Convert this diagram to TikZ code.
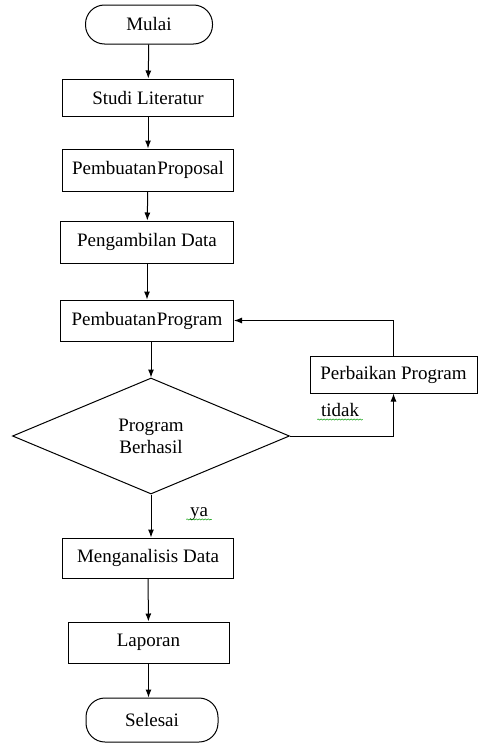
\documentclass[tikz,border=0pt]{standalone}
\usepackage{fontspec}
\newfontfamily\teksfont{Liberation Serif}
\usetikzlibrary{arrows.meta,shapes.geometric,decorations.pathmorphing}

\begin{document}
\begin{tikzpicture}[x=1pt,y=-1pt,line width=1pt,
  every node/.style={font=\teksfont\fontsize{19}{22}\selectfont},
  proses/.style={draw,rectangle,inner sep=0pt},
  terminal/.style={draw,rectangle,rounded corners=19pt,inner sep=0pt},
  keputusan/.style={draw,diamond,inner sep=0pt,align=center},
  alur/.style={-{Latex[length=8pt,width=6pt]}},
  ejaan/.style={green!60!black,line width=0.5pt,decorate,decoration={snake,amplitude=0.6pt,segment length=3pt}}]
  \useasboundingbox (0,0) rectangle (479,744);
  %draw the main column
  \node [terminal,minimum width=127pt,minimum height=39pt] (mulai) at (149,24.5) {Mulai};
  \node [proses,minimum width=171pt,minimum height=37pt] (studi) at (148,97.5) {Studi Literatur};
  \node [proses,minimum width=171pt,minimum height=42pt] (proposal) at (148,170) {Pembuatan\kern1pt Proposal};
  \node [proses,minimum width=173pt,minimum height=42pt] (ambil) at (147,242) {Pengambilan Data};
  \node [proses,minimum width=173pt,minimum height=41pt] (program) at (147,320.5) {Pembuatan\kern1pt Program};
  \node [keputusan,minimum width=277pt,minimum height=116pt] (cek) at (151,436) {Program\\Berhasil};
  \node [proses,minimum width=171pt,minimum height=40pt] (analisis) at (148,558) {Menganalisis Data};
  \node [proses,minimum width=161pt,minimum height=41pt] (laporan) at (148.5,642.5) {Laporan};
  \node [terminal,minimum width=132pt,minimum height=44pt] (selesai) at (152,720) {Selesai};
  %draw the repair box
  \node [proses,minimum width=167pt,minimum height=37pt] (perbaikan) at (393.5,374.5) {Perbaikan Program};
  %draw the arrows
  \draw [alur] (mulai) -- (studi);
  \draw [alur] (studi) -- (proposal);
  \draw [alur] (proposal) -- (ambil);
  \draw [alur] (ambil) -- (program);
  \draw [alur] (program.south -| cek.north) -- (cek.north);
  \draw [alur] (cek.south) -- (cek.south |- analisis.north);
  \draw [alur] (analisis) -- (laporan);
  \draw [alur] (laporan.south) -- (laporan.south |- selesai.north);
  %draw the loop back
  \draw [alur] (cek.east) -| (perbaikan.south);
  \draw [alur] (perbaikan.north) |- (program.east);
  %labels
  \node (tidak) at (340,410) {tidak};
  \node (ya) at (199,514) {ya};
  \draw [ejaan] ([yshift=-3pt]tidak.base west) -- ([yshift=-3pt]tidak.base east);
  \draw [ejaan] ([yshift=-3pt]ya.base west) -- ([yshift=-3pt]ya.base east);
\end{tikzpicture}
\end{document}
